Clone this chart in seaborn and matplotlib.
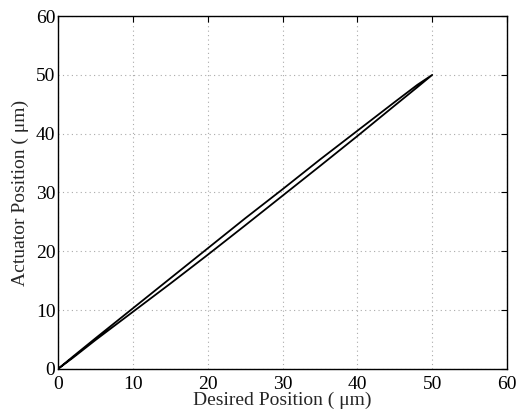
import numpy as np
import matplotlib
matplotlib.use("Agg")
import matplotlib.pyplot as plt
import seaborn as sns
import pandas as pd

# Hysteresis loop
x_up = [0, 2, 5, 10, 15, 20, 25, 30, 35, 40, 45, 48, 50]
y_up = [0, 1.9, 4.9, 9.7, 14.5, 19.4, 24.4, 29.45, 34.5, 39.6, 44.8, 47.9, 50]
x_down = [50, 48, 45, 40, 35, 30, 25, 20, 15, 10, 5, 2, 0]
y_down = [50, 48.3, 45.4, 40.5, 35.6, 30.55, 25.6, 20.5, 15.4, 10.3, 5.2, 2.1, 0]

ticks = [0, 10, 20, 30, 40, 50, 60]

df = pd.DataFrame({
    "desired": x_up + x_down,
    "actual": y_up + y_down,
})

sns.set_style("white")
plt.rcParams["font.family"] = ["Liberation Serif", "DejaVu Serif"]

fig, ax = plt.subplots(figsize=(5.19, 4.13), dpi=100)
fig.subplots_adjust(left=0.112, right=0.977, top=0.961, bottom=0.107)

sns.lineplot(data=df, x="desired", y="actual", sort=False, estimator=None,
             color="black", linewidth=1.3, ax=ax)

ax.set_xlim(0, 60)
ax.set_ylim(0, 60)
ax.set_xticks(ticks)
ax.set_yticks(ticks)
ax.tick_params(direction="in", top=True, right=True, length=4, width=0.8,
               labelsize=14, colors="black")
ax.tick_params(axis="x", pad=5)
ax.tick_params(axis="y", pad=2)
ax.grid(True, linestyle=(0, (1, 3)), color="#aaaaaa", linewidth=0.8)
for s in ax.spines.values():
    s.set_color("black")
    s.set_linewidth(1.0)

ax.set_xlabel("Desired Position ( \u03bcm)", fontsize=14, labelpad=-1)
ax.set_ylabel("Actuator Position ( \u03bcm)", fontsize=14, labelpad=5)

fig.savefig("out.png", dpi=100)
